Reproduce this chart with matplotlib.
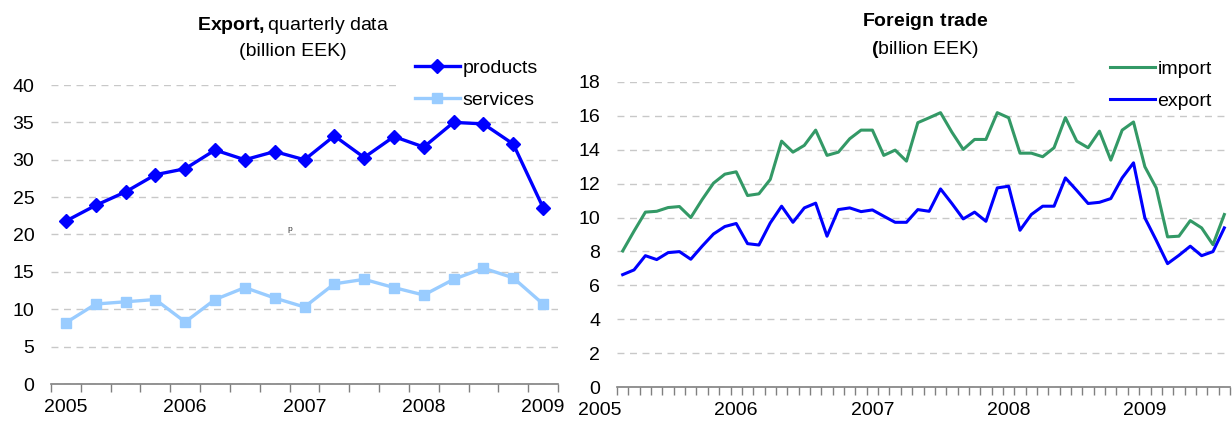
import numpy as np
import matplotlib
matplotlib.use("Agg")
import matplotlib.pyplot as plt
from matplotlib.patches import Rectangle

plt.rcParams['font.family'] = ['Liberation Sans', 'DejaVu Sans']
plt.rcParams['mathtext.fontset'] = 'custom'
plt.rcParams['mathtext.rm'] = 'Liberation Sans'
plt.rcParams['mathtext.bf'] = 'Liberation Sans:bold'

# quarterly export, billion EEK
quarters = ['2005 Q1', '2005 Q2', '2005 Q3', '2005 Q4',
            '2006 Q1', '2006 Q2', '2006 Q3', '2006 Q4',
            '2007 Q1', '2007 Q2', '2007 Q3', '2007 Q4',
            '2008 Q1', '2008 Q2', '2008 Q3', '2008 Q4',
            '2009 Q1']
products = [21.8, 23.9, 25.7, 28.0, 28.8, 31.3, 30.0, 31.1, 30.0,
            33.2, 30.3, 33.1, 31.7, 35.0, 34.8, 32.1, 23.6]
services = [8.2, 10.7, 11.0, 11.3, 8.3, 11.3, 12.9, 11.5, 10.3,
            13.4, 14.0, 12.9, 11.9, 14.0, 15.5, 14.2, 10.7]

# monthly foreign trade, billion EEK (Mar 2005 - Aug 2009)
months = ['2005-03', '2005-04', '2005-05', '2005-06', '2005-07', '2005-08',
          '2005-09', '2005-10', '2005-11', '2005-12',
          '2006-01', '2006-02', '2006-03', '2006-04', '2006-05', '2006-06',
          '2006-07', '2006-08', '2006-09', '2006-10', '2006-11', '2006-12',
          '2007-01', '2007-02', '2007-03', '2007-04', '2007-05', '2007-06',
          '2007-07', '2007-08', '2007-09', '2007-10', '2007-11', '2007-12',
          '2008-01', '2008-02', '2008-03', '2008-04', '2008-05', '2008-06',
          '2008-07', '2008-08', '2008-09', '2008-10', '2008-11', '2008-12',
          '2009-01', '2009-02', '2009-03', '2009-04', '2009-05', '2009-06',
          '2009-07', '2009-08']
imports = [8.03, 9.2, 10.32, 10.37, 10.59, 10.65, 10.0, 11.06, 12.03, 12.56,
           12.70, 11.30, 11.40, 12.25, 14.51, 13.86, 14.26, 15.16, 13.67, 13.86,
           14.65, 15.16, 15.16, 13.67, 13.98, 13.33, 15.6, 15.89, 16.19, 15.04,
           14.02, 14.61, 14.61, 16.19, 15.89, 13.80, 13.80, 13.59, 14.12, 15.9,
           14.51, 14.12, 15.10, 13.39, 15.16, 15.64, 13.0, 11.75, 8.86, 8.90,
           9.82, 9.39, 8.40, 10.18]
exports = [6.63, 6.91, 7.75, 7.52, 7.93, 7.99, 7.54, 8.31, 9.03, 9.47,
           9.65, 8.46, 8.38, 9.68, 10.67, 9.72, 10.57, 10.85, 8.90, 10.47,
           10.57, 10.35, 10.45, 10.08, 9.72, 9.72, 10.47, 10.37, 11.69, 10.83,
           9.92, 10.32, 9.78, 11.75, 11.85, 9.25, 10.18, 10.67, 10.67, 12.34,
           11.6, 10.83, 10.9, 11.12, 12.34, 13.23, 9.98, 8.66, 7.28, 7.77,
           8.31, 7.75, 7.99, 9.39]

FS = 14
W, H = 1232, 423


def style_axis(ax, n, ymax, ystep):
    ax.set_xlim(-0.5, n - 0.5)
    ax.set_ylim(0, ymax)
    ax.set_yticks(np.arange(0, ymax + 0.1, ystep))
    ax.yaxis.grid(True, color='#c8c8c8', linestyle=(0, (5, 4)), linewidth=1)
    ax.set_axisbelow(True)
    for s in ['left', 'right', 'top']:
        ax.spines[s].set_visible(False)
    ax.spines['bottom'].set_color('#808080')
    ax.spines['bottom'].set_linewidth(1.2)
    ax.tick_params(axis='y', length=0, labelsize=FS, pad=12)
    ax.tick_params(axis='x', which='major', length=0, labelsize=FS, pad=11)
    ax.set_xticks(np.arange(-0.5, n), minor=True)
    ax.tick_params(axis='x', which='minor', length=6, color='#808080', width=1)


def legend_at(ax, x, y, box_left, box_bottom):
    # white legend area hides the gridlines behind it
    ax.add_patch(Rectangle((box_left / W, 1 - box_bottom / H),
                           (W - box_left) / W, (box_bottom - y) / H,
                           transform=fig.transFigure, facecolor='white',
                           edgecolor='none', zorder=1, clip_on=False))
    return ax.legend(loc='upper left', bbox_to_anchor=(x / W, 1 - y / H),
                     bbox_transform=fig.transFigure, fontsize=FS,
                     frameon=False, borderpad=0.1, borderaxespad=0,
                     handlelength=2.3, handletextpad=0.15, labelspacing=0.76)


fig = plt.figure(figsize=(W / 100, H / 100), dpi=100)

# --- quarterly export
ax1 = fig.add_axes([51 / W, 1 - 384 / H, (558 - 51) / W, (384 - 85) / H])
x1 = np.arange(len(quarters))
ax1.plot(x1, products, color='#0000ff', lw=2.4, marker='D', ms=7,
         label='products', zorder=3)
ax1.plot(x1, services, color='#99ccff', lw=2.4, marker='s', ms=7,
         label='services', zorder=2)
style_axis(ax1, len(quarters), 40, 5)
yr_q = [i for i, q in enumerate(quarters) if q.endswith('Q1')]
ax1.set_xticks(yr_q)
ax1.set_xticklabels([quarters[i][:4] for i in yr_q])
ax1.text(7.5, 20.2, 'p', fontsize=6, ha='center', va='bottom', color='#333333')
legend_at(ax1, 413, 57, 400, 108)

fig.text(293 / W, 1 - 25 / H, r'$\bf{Export,}$quarterly data', fontsize=FS,
         ha='center', va='center')
fig.text(293 / W, 1 - 52 / H, '(billion EEK)', fontsize=FS,
         ha='center', va='center')

# --- monthly foreign trade
ax2 = fig.add_axes([617 / W, 1 - 387 / H, (1230 - 617) / W, (387 - 82) / H])
x2 = np.arange(len(months))
ax2.plot(x2, imports, color='#339966', lw=2.2, label='import', zorder=2)
ax2.plot(x2, exports, color='#0000ff', lw=2.2, label='export', zorder=3)
style_axis(ax2, len(months), 18, 2)
jan = [i for i, m in enumerate(months) if m.endswith('-01')]
ax2.set_xticks(jan)
ax2.set_xticklabels([months[i][:4] for i in jan])
# first year label sits before the first month on the axis
first_year = int(months[0][:4])
ax2.annotate(str(first_year), xy=(jan[0] - 12, 0), xycoords='data',
             xytext=(0, -11), textcoords='offset points', ha='center',
             va='top', fontsize=FS, annotation_clip=False)
legend_at(ax2, 1108, 58, 1075, 108)

fig.text(925 / W, 1 - 22 / H, r'$\bf{Foreign\ trade}$', fontsize=FS,
         ha='center', va='center')
fig.text(925 / W, 1 - 50 / H, r'$\bf{(}$billion EEK)', fontsize=FS,
         ha='center', va='center')

fig.savefig('out.png', dpi=100)
